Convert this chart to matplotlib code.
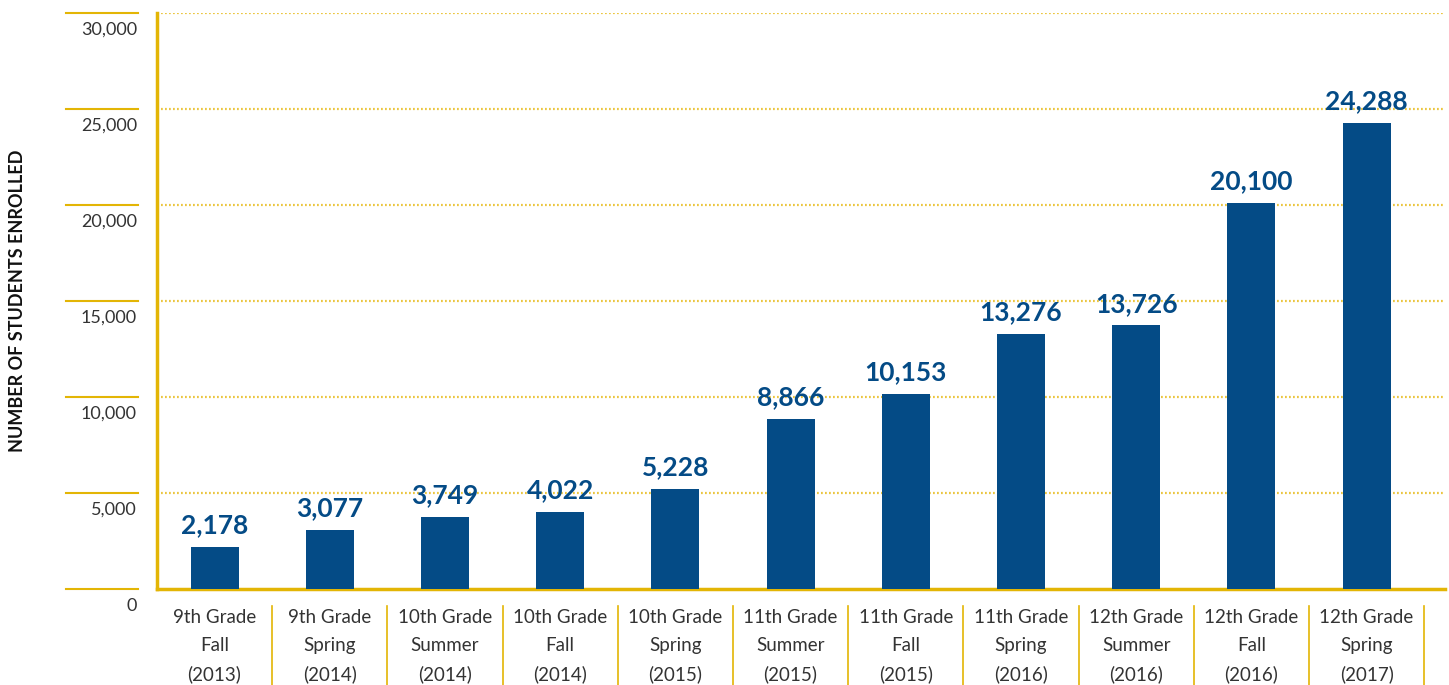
import matplotlib
matplotlib.use('Agg')
import matplotlib.pyplot as plt
import matplotlib.transforms as mtransforms
import numpy as np

matplotlib.rcParams['font.family'] = ['Lato', 'DejaVu Sans']

### data
terms = ['9th Grade\nFall\n(2013)', '9th Grade\nSpring\n(2014)', '10th Grade\nSummer\n(2014)',
         '10th Grade\nFall\n(2014)', '10th Grade\nSpring\n(2015)', '11th Grade\nSummer\n(2015)',
         '11th Grade\nFall\n(2015)', '11th Grade\nSpring\n(2016)', '12th Grade\nSummer\n(2016)',
         '12th Grade\nFall\n(2016)', '12th Grade\nSpring\n(2017)']
enrolled = [2178, 3077, 3749, 4022, 5228, 8866, 10153, 13276, 13726, 20100, 24288]
yticks = [0, 5000, 10000, 15000, 20000, 25000, 30000]

blue = '#044b86'
gold = '#e3b505'
gridgold = '#ebc640'
txt = '#333333'

fig = plt.figure(figsize=(14.49, 6.85), dpi=100)
ax = fig.add_axes([0.1083, 0.1401, 0.8889, 0.8409])

x = np.arange(len(terms))
ax.bar(x, enrolled, width=0.417, color=blue, zorder=3)
for xi, v in zip(x, enrolled):
    ax.text(xi, v + 500, '{:,}'.format(v), ha='center', va='bottom',
            fontsize=19, fontweight='bold', color=blue, zorder=4)

ax.set_xlim(-0.5, len(terms) - 0.32)
ax.set_ylim(0, 30000)
ax.set_yticks(yticks)
ax.set_yticklabels([])
ax.set_xticks([])
ax.tick_params(left=False, bottom=False)
for y in yticks[1:]:
    ax.axhline(y, color=gridgold, linestyle=(0, (0.8, 1.0)), linewidth=1.6, zorder=1)

for s in ['top', 'right']:
    ax.spines[s].set_visible(False)
ax.spines['left'].set_color(gold)
ax.spines['bottom'].set_color(gold)
ax.spines['left'].set_linewidth(2.5)
ax.spines['bottom'].set_linewidth(2.5)

# y tick lines and labels sitting under them
tr = mtransforms.blended_transform_factory(fig.transFigure, ax.transData)
for y in yticks:
    ax.plot([66 / 1449., 138 / 1449.], [y, y], color=gold, linewidth=1.5,
            transform=tr, clip_on=False)
    ax.text(137 / 1449., y - 450, '{:,}'.format(y), transform=tr, ha='right', va='top',
            fontsize=13, color=txt)

# category labels and separators
trx = mtransforms.blended_transform_factory(ax.transData, fig.transFigure)
for xi, lab in zip(x, terms):
    ax.text(xi, 1 - 609 / 685., lab, transform=trx, ha='center', va='top',
            fontsize=13.5, color=txt, linespacing=1.76)
    ax.plot([xi + 0.5, xi + 0.5], [1 - 606 / 685., 0], color=gold, linewidth=1.2,
            transform=trx, clip_on=False)

fig.text(18 / 1449., 1 - 301 / 685., 'NUMBER OF STUDENTS ENROLLED', rotation=90,
         ha='center', va='center', fontsize=13, fontweight='bold', color='#111111')

fig.savefig('out.png', dpi=100)
